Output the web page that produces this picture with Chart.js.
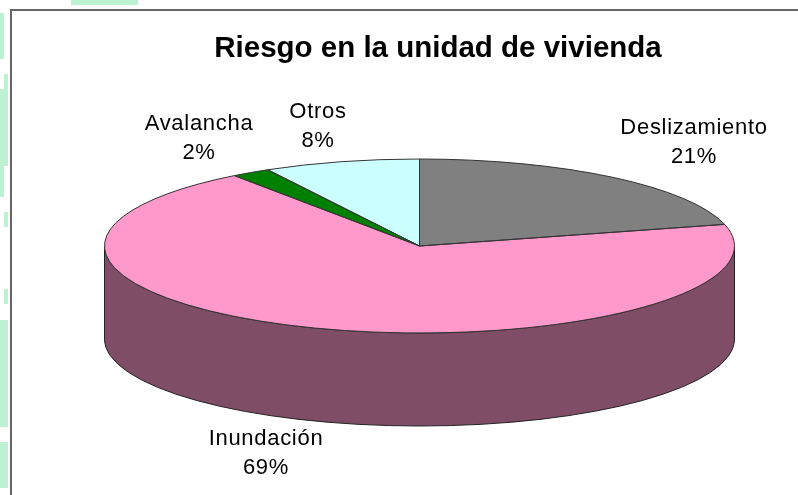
<!DOCTYPE html>
<html>
<head>
<meta charset="utf-8">
<script src="https://cdn.jsdelivr.net/npm/chart.js@4"></script>
<style>
  html, body { margin: 0; padding: 0; background: #fff; overflow: hidden; width: 798px; height: 495px; }
  #frame { position: absolute; left: 10px; top: 9px; width: 800px; height: 500px; border: 2px solid #666; box-sizing: border-box; }
  #holder { position: absolute; left: 10px; top: 10px; width: 856px; height: 500px; }
  .patch { position: absolute; background: #bcf2d2; }
</style>
</head>
<body>
<div class="patch" style="left:71px;top:0;width:67px;height:5px"></div>
<div class="patch" style="left:0;top:13px;width:4px;height:46px"></div>
<div class="patch" style="left:4px;top:74px;width:4px;height:92px"></div>
<div class="patch" style="left:0;top:89px;width:4px;height:108px"></div>
<div class="patch" style="left:4px;top:212px;width:4px;height:15px"></div>
<div class="patch" style="left:4px;top:289px;width:4px;height:15px"></div>
<div class="patch" style="left:0;top:320px;width:8px;height:107px"></div>
<div class="patch" style="left:0;top:442px;width:8px;height:46px"></div>
<div id="holder"><canvas id="pieChart" width="856" height="500"></canvas></div>
<div id="frame"></div>
<script>
const categories = ['Deslizamiento', 'Inundación', 'Avalancha', 'Otros'];
const shares = [21, 69, 2, 8];
const sliceColors = ['#808080', '#ff99cc', '#008000', '#ccffff'];
const wallColors = ['#404040', '#7f4d66', '#004000', '#668080'];
const chartTitle = 'Riesgo en la unidad de vivienda';
const labelSpots = [[684, 118], [256, 429], [189, 114], [308, 102]];

// flattened pie, canvas coordinates
const pie = { x: 409.5, y: 236, rx: 315, ry: 87, depth: 93 };

function flatten(ctx, el) {
  ctx.translate(pie.x, pie.y);
  ctx.scale(pie.rx / el.outerRadius, pie.ry / el.outerRadius);
  ctx.translate(-el.x, -el.y);
}

const pie3d = {
  id: 'pie3d',
  beforeDatasetsDraw(chart) {
    const ctx = chart.ctx;
    const arcs = chart.getDatasetMeta(0).data;
    // side wall, only the front half of the rim can be seen
    arcs.forEach((el, i) => {
      const from = Math.max(el.startAngle, 0);
      const to = Math.min(el.endAngle, Math.PI);
      if (to <= from) return;
      ctx.save();
      ctx.beginPath();
      ctx.ellipse(pie.x, pie.y, pie.rx, pie.ry, 0, from, to);
      ctx.ellipse(pie.x, pie.y + pie.depth, pie.rx, pie.ry, 0, to, from, true);
      ctx.closePath();
      ctx.fillStyle = wallColors[i];
      ctx.fill();
      ctx.strokeStyle = '#222';
      ctx.lineWidth = 1;
      ctx.stroke();
      ctx.restore();
    });
    ctx.save();
    flatten(ctx, arcs[0]);
  },
  afterDatasetsDraw(chart) {
    const ctx = chart.ctx;
    ctx.restore();
    // outline after the transform is gone, so the line width stays even
    chart.getDatasetMeta(0).data.forEach(el => {
      ctx.save();
      flatten(ctx, el);
      ctx.beginPath();
      ctx.moveTo(el.x, el.y);
      ctx.arc(el.x, el.y, el.outerRadius, el.startAngle, el.endAngle);
      ctx.closePath();
      ctx.restore();
      ctx.strokeStyle = '#333';
      ctx.lineWidth = 1;
      ctx.stroke();
    });
    ctx.save();
    ctx.fillStyle = '#000';
    ctx.font = '22px "Liberation Sans", Arial, sans-serif';
    ctx.letterSpacing = '0.7px';
    ctx.textAlign = 'center';
    ctx.textBaseline = 'middle';
    categories.forEach((name, i) => {
      ctx.fillText(name, labelSpots[i][0], labelSpots[i][1]);
      ctx.fillText(shares[i] + '%', labelSpots[i][0], labelSpots[i][1] + 29);
    });
    ctx.restore();
  },
};

new Chart(document.getElementById('pieChart').getContext('2d'), {
  type: 'pie',
  data: {
    labels: categories,
    datasets: [{ data: shares, backgroundColor: sliceColors, borderWidth: 0 }],
  },
  options: {
    responsive: false,
    animation: false,
    events: [],
    plugins: {
      legend: { display: false },
      tooltip: { enabled: false },
      title: {
        display: true,
        text: chartTitle,
        color: '#000',
        font: { family: '"Liberation Sans", Arial, sans-serif', size: 29.5, weight: 'bold' },
        padding: { top: 21, bottom: 10 },
      },
    },
  },
  plugins: [pie3d],
});
</script>
</body>
</html>
